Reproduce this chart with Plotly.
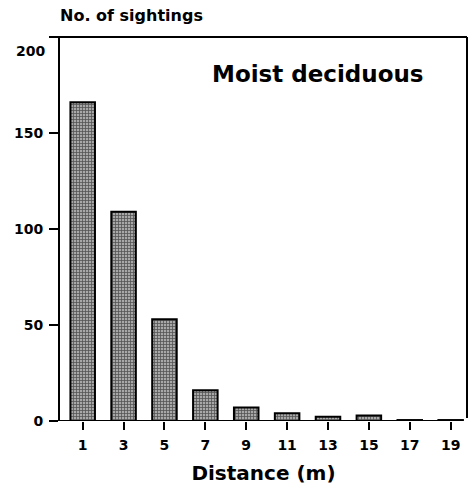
import plotly.graph_objects as go

distance = [1, 3, 5, 7, 9, 11, 13, 15, 17, 19]
sightings = [166, 109, 53, 16, 7, 4, 2.2, 2.8, 0.5, 0.5]
x_ticks = [1, 3, 5, 7, 9, 11, 13, 15, 17, 19]
y_ticks = [0, 50, 100, 150]

FONT = "DejaVu Sans"
W, H = 472, 488
L, R, T, B = 60, 5, 37, 67
pw = W - L - R
ph = H - T - B

fig = go.Figure()
fig.add_trace(go.Bar(
    x=distance, y=sightings, width=1.2,
    marker=dict(
        color="#ffffff",
        line=dict(color="#000000", width=2),
        pattern=dict(shape="+", fgcolor="#000000", bgcolor="#a8a8a8", size=3, solidity=0.45),
    ),
    showlegend=False,
))

fig.update_layout(
    width=W, height=H,
    margin=dict(l=L, r=R, t=T, b=B),
    paper_bgcolor="white", plot_bgcolor="white",
    font=dict(family=FONT, color="#000000", size=14, weight=700),
    xaxis=dict(
        range=[-0.11, 19.8], tickvals=x_ticks, ticktext=[str(v) for v in x_ticks],
        ticks="outside", ticklen=8, tickwidth=2, tickcolor="#000",
        showline=False, showgrid=False, zeroline=False,
        tickfont=dict(family=FONT, size=14, weight=700),
        ticklabelstandoff=3,
        title=dict(text="Distance (m)", font=dict(family=FONT, size=20, weight=700), standoff=14),
    ),
    yaxis=dict(
        range=[0, 200], tickvals=y_ticks, ticktext=[str(v) for v in y_ticks],
        ticks="outside", ticklen=9, tickwidth=2, tickcolor="#000",
        showline=True, linewidth=2, linecolor="#000",
        showgrid=False, zeroline=False,
        tickfont=dict(family=FONT, size=14, weight=700),
        ticklabelstandoff=3,
    ),
    shapes=[
        # x baseline
        dict(type="line", xref="paper", yref="y", x0=(50 - L) / pw, x1=(458 - L) / pw, y0=0, y1=0,
             line=dict(color="#000", width=2)),
        # top border
        dict(type="line", xref="paper", yref="paper", x0=(49 - L) / pw, x1=1, y0=1, y1=1,
             line=dict(color="#000", width=2)),
        # right border
        dict(type="line", xref="paper", yref="paper", x0=1, x1=1, y0=0.008, y1=1,
             line=dict(color="#000", width=2)),
    ],
    annotations=[
        dict(text="No. of sightings", xref="paper", yref="paper", x=(58 - L) / pw, y=1,
             xanchor="left", yanchor="bottom", yshift=10, showarrow=False,
             font=dict(family=FONT, size=16, weight=700)),
        dict(text="Moist deciduous", xref="paper", yref="paper", x=(210 - L) / pw, y=1,
             xanchor="left", yanchor="top", yshift=-22, showarrow=False,
             font=dict(family=FONT, size=23, weight=700)),
        dict(text="200", xref="paper", yref="y", x=0, y=200, xanchor="right", yanchor="middle",
             xshift=-13, yshift=-14, showarrow=False,
             font=dict(family=FONT, size=14, weight=700)),
    ],
)

fig.write_html("out.html", config={"displayModeBar": False},
               post_script="document.body.style.margin='0';document.body.style.padding='0';")
